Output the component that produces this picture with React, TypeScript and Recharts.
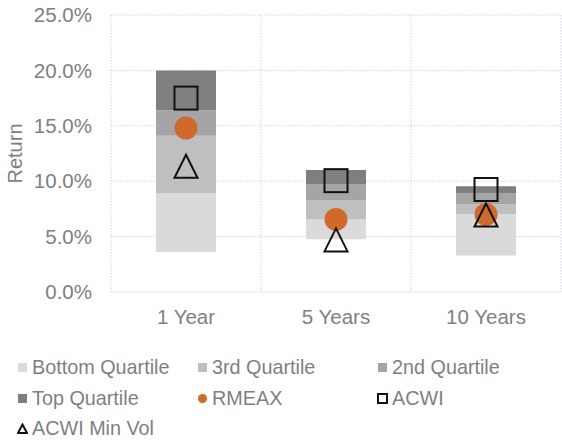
import React from 'react';
import { ComposedChart, Bar, Line, XAxis, YAxis, CartesianGrid, Legend } from 'recharts';

const categories = ['1 Year', '5 Years', '10 Years'];
// quartile boundaries (percent)
const quartileBase = [3.6, 4.75, 3.3];
const bottomQuartileTop = [8.9, 6.55, 7.05];
const thirdQuartileTop = [14.1, 8.3, 7.9];
const secondQuartileTop = [16.4, 9.7, 8.9];
const topQuartileTop = [20.0, 11.0, 9.55];
const rmeax = [14.8, 6.55, 7.0];
const acwi = [17.5, 10.05, 9.25];
const acwiMinVol = [11.35, 4.7, 6.95];
const yTicks = [0, 5, 10, 15, 20, 25];

const data = categories.map((name, i) => ({
  name,
  base: quartileBase[i],
  bottom: bottomQuartileTop[i] - quartileBase[i],
  third: thirdQuartileTop[i] - bottomQuartileTop[i],
  second: secondQuartileTop[i] - thirdQuartileTop[i],
  top: topQuartileTop[i] - secondQuartileTop[i],
  rmeax: rmeax[i],
  acwi: acwi[i],
  minVol: acwiMinVol[i],
}));

const FONT = '"Liberation Sans", Arial, sans-serif';
const GRAY = '#7F7F7F';
const C_BOTTOM = '#DADADA';
const C_THIRD = '#BFBFBF';
const C_SECOND = '#A5A5A5';
const C_TOP = '#7F7F7F';
const C_ORANGE = '#D0692C';

const SquareDot = (p: any) => {
  if (p.cx == null || p.cy == null) return <g key={p.key ?? p.index} />;
  const s = 23;
  return <rect key={p.key ?? p.index} x={p.cx - s / 2} y={p.cy - s / 2} width={s} height={s} fill="none" stroke="#111" strokeWidth={2} />;
};
const CircleDot = (p: any) => {
  if (p.cx == null || p.cy == null) return <g key={p.key ?? p.index} />;
  return <circle key={p.key ?? p.index} cx={p.cx} cy={p.cy} r={11.5} fill={C_ORANGE} />;
};
const TriDot = (p: any) => {
  if (p.cx == null || p.cy == null) return <g key={p.key ?? p.index} />;
  const w = 23, h = 23;
  const pts = `${p.cx},${p.cy - h / 2} ${p.cx + w / 2},${p.cy + h / 2} ${p.cx - w / 2},${p.cy + h / 2}`;
  return <polygon key={p.key ?? p.index} points={pts} fill="none" stroke="#111" strokeWidth={2} strokeLinejoin="miter" />;
};

const legendItems = [
  { label: 'Bottom Quartile', kind: 'rect', color: C_BOTTOM },
  { label: '3rd Quartile', kind: 'rect', color: C_THIRD },
  { label: '2nd Quartile', kind: 'rect', color: C_SECOND },
  { label: 'Top Quartile', kind: 'rect', color: C_TOP },
  { label: 'RMEAX', kind: 'circle', color: C_ORANGE },
  { label: 'ACWI', kind: 'square', color: '#111' },
  { label: 'ACWI Min Vol', kind: 'tri', color: '#111' },
];

const LegendIcon = ({ kind, color }: { kind: string; color: string }) => (
  <svg width={11} height={11} style={{ display: 'block' }}>
    {kind === 'rect' && <rect x={1} y={1} width={9} height={9} fill={color} />}
    {kind === 'circle' && <circle cx={5.5} cy={5.5} r={4.5} fill={color} />}
    {kind === 'square' && <rect x={1} y={1} width={9} height={9} fill="none" stroke={color} strokeWidth={2} />}
    {kind === 'tri' && <polygon points="5.5,1.5 10,10 1,10" fill="none" stroke={color} strokeWidth={2} />}
  </svg>
);

const CustomLegend = () => (
  <div style={{ display: 'grid', gridTemplateColumns: '180px 180px 180px', paddingLeft: 17, fontFamily: FONT, fontSize: 19.8, color: GRAY }}>
    {legendItems.map((it) => (
      <div key={it.label} style={{ display: 'flex', alignItems: 'center', height: 30.7, whiteSpace: 'nowrap' }}>
        <LegendIcon kind={it.kind} color={it.color} />
        <span style={{ marginLeft: 4 }}>{it.label}</span>
      </div>
    ))}
  </div>
);

const ReturnLabel = (props: any) => {
  const vb = props.viewBox || {};
  const cy = (vb.y ?? 15) + (vb.height ?? 277) / 2;
  const x = 14.5;
  return (
    <text x={x} y={cy} transform={`rotate(-90, ${x}, ${cy})`} textAnchor="middle" dominantBaseline="central" fill={GRAY} fontSize={20} fontFamily={FONT}>
      Return
    </text>
  );
};

export default function App() {
  return (
    <div style={{ position: 'absolute', left: 0, top: 0, width: 562, height: 443, background: '#fff' }}>
      <ComposedChart width={562} height={443} data={data} margin={{ top: 15, right: 1, bottom: 108, left: 0 }} barCategoryGap={0}>
        <CartesianGrid
          stroke="#CCD5E2"
          strokeDasharray="1.5 1.5"
          verticalCoordinatesGenerator={({ offset }: any) =>
            categories.map((_, i) => offset.left + (i * offset.width) / categories.length).concat([offset.left + offset.width])
          }
        />
        <XAxis dataKey="name" axisLine={false} tickLine={false} tickSize={0} tickMargin={17.5} height={43}
          tick={{ fill: GRAY, fontSize: 20.5, fontFamily: FONT }} interval={0} />
        <YAxis domain={[0, 25]} ticks={yTicks} axisLine={false} tickLine={false} tickSize={0} tickMargin={19} width={111}
          tickFormatter={(v: number) => v.toFixed(1) + '%'}
          tick={{ fill: GRAY, fontSize: 20.5, fontFamily: FONT }}
          label={<ReturnLabel />} />
        <Bar dataKey="base" stackId="q" fill="transparent" barSize={60} isAnimationActive={false} />
        <Bar dataKey="bottom" stackId="q" fill={C_BOTTOM} barSize={60} isAnimationActive={false} />
        <Bar dataKey="third" stackId="q" fill={C_THIRD} barSize={60} isAnimationActive={false} />
        <Bar dataKey="second" stackId="q" fill={C_SECOND} barSize={60} isAnimationActive={false} />
        <Bar dataKey="top" stackId="q" fill={C_TOP} barSize={60} isAnimationActive={false} />
        <Line dataKey="rmeax" stroke="none" strokeWidth={0} dot={CircleDot} activeDot={false} isAnimationActive={false} />
        <Line dataKey="acwi" stroke="none" strokeWidth={0} dot={SquareDot} activeDot={false} isAnimationActive={false} />
        <Line dataKey="minVol" stroke="none" strokeWidth={0} dot={TriDot} activeDot={false} isAnimationActive={false} />
        <Legend verticalAlign="middle" align="center" content={<CustomLegend />}
          wrapperStyle={{ top: 352, left: 0, width: 562 }} />
      </ComposedChart>
    </div>
  );
}
